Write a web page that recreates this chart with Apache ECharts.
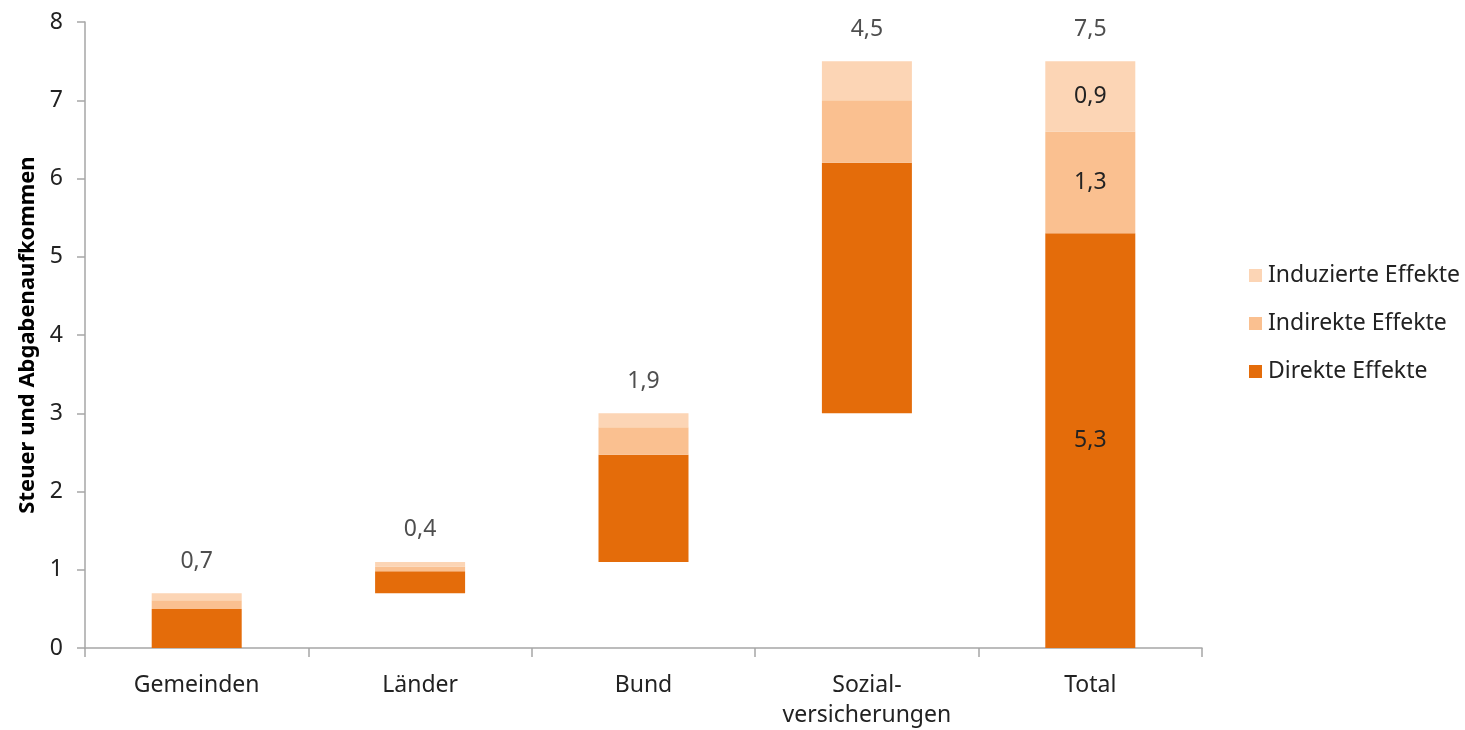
<!DOCTYPE html>
<html>
<head>
<meta charset="utf-8">
<script src="https://cdn.jsdelivr.net/npm/echarts@6/dist/echarts.min.js"></script>
<style>
  html, body { margin: 0; padding: 0; background: #fff; }
  #chart { width: 1465px; height: 730px; }
</style>
</head>
<body>
<div id="chart"></div>
<script>
// Kategorien und Werte (Mrd.)
const categories = ['Gemeinden', 'Länder', 'Bund', 'Sozial-\nversicherungen', 'Total'];
const direkt     = [0.50, 0.28, 1.37, 3.20, 5.30];
const indirekt   = [0.11, 0.06, 0.35, 0.80, 1.30];
const induziert  = [0.09, 0.06, 0.18, 0.50, 0.90];
const totals     = [0.7, 0.4, 1.9, 4.5, 7.5];
const yTicks     = [0, 1, 2, 3, 4, 5, 6, 7, 8];

// Sockel: kumulierte Summen der vorherigen Ebenen, Total beginnt bei 0
const lastIdx = categories.length - 1;
const base = totals.map((t, i) => {
  if (i === lastIdx) return 0;
  let s = 0;
  for (let k = 0; k < i; k++) s += totals[k];
  return s;
});
const tops = totals.map((t, i) => base[i] + t);

const fmt = v => v.toFixed(1).replace('.', ',');
const FONT = 'Noto Sans';
const TXT = '#222222';
const FS = 23;

function segData(arr) {
  return arr.map((v, i) => i === lastIdx
    ? { value: v, label: { show: true, position: 'inside', formatter: fmt(v), color: TXT, fontSize: FS, fontFamily: FONT } }
    : v);
}

const chart = echarts.init(document.getElementById('chart'));
chart.setOption({
  animation: false,
  grid: { left: 85, right: 263, top: 22, bottom: 76, containLabel: false },
  legend: {
    data: ['Induzierte Effekte', 'Indirekte Effekte', 'Direkte Effekte'],
    orient: 'vertical',
    left: 1244,
    top: 259,
    itemWidth: 13,
    itemHeight: 13,
    itemGap: 25,
    icon: 'rect',
    textStyle: { fontFamily: FONT, fontSize: FS, color: TXT, padding: [0, 0, 0, 1] }
  },
  xAxis: {
    type: 'category',
    data: categories,
    axisLine: { lineStyle: { color: '#A6A6A6', width: 1.5 } },
    axisTick: { show: true, interval: 0, length: 9, lineStyle: { color: '#A6A6A6', width: 1.5 } },
    axisLabel: { interval: 0, fontFamily: FONT, fontSize: FS, color: TXT, margin: 22, lineHeight: 30 }
  },
  yAxis: {
    type: 'value',
    min: 0, max: 8, interval: 1,
    name: 'Steuer und Abgabenaufkommen',
    nameLocation: 'middle',
    nameGap: 46,
    nameTextStyle: { fontFamily: FONT, fontSize: 22, fontWeight: 'bold', color: '#000' },
    splitLine: { show: false },
    axisLine: { show: true, lineStyle: { color: '#A6A6A6', width: 1.5 } },
    axisTick: { show: true, length: 8, inside: false, lineStyle: { color: '#A6A6A6', width: 1.5 } },
    axisLabel: {
      fontFamily: FONT, fontSize: FS, color: TXT, margin: 22,
      formatter: v => (yTicks.includes(v) ? String(v) : '')
    }
  },
  series: [
    {
      name: 'Sockel', type: 'bar', stack: 'w', barWidth: 90,
      data: base, itemStyle: { color: 'transparent' }, emphasis: { disabled: true },
      tooltip: { show: false }
    },
    {
      name: 'Direkte Effekte', type: 'bar', stack: 'w', barWidth: 90,
      data: segData(direkt), itemStyle: { color: '#E46C0A' }
    },
    {
      name: 'Indirekte Effekte', type: 'bar', stack: 'w', barWidth: 90,
      data: segData(indirekt), itemStyle: { color: '#FAC090' }
    },
    {
      name: 'Induzierte Effekte', type: 'bar', stack: 'w', barWidth: 90,
      data: segData(induziert), itemStyle: { color: '#FCD5B5' }
    },
    {
      name: 'Summe', type: 'scatter', symbolSize: 1,
      itemStyle: { color: 'transparent' },
      data: tops,
      label: {
        show: true, position: 'top', distance: 20,
        formatter: p => fmt(totals[p.dataIndex]),
        fontFamily: FONT, fontSize: FS, color: TXT
      }
    }
  ]
});
</script>
</body>
</html>
